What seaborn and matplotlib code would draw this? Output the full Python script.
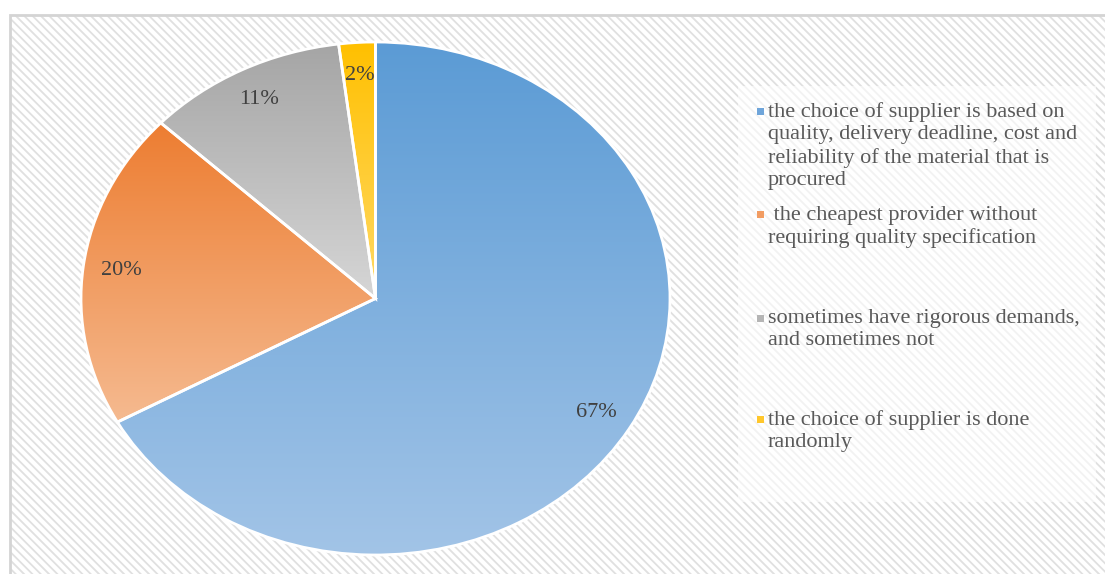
import numpy as np
import matplotlib
matplotlib.use("Agg")
import matplotlib.pyplot as plt
from matplotlib.colors import LinearSegmentedColormap
from matplotlib.patches import Rectangle
import seaborn as sns

# Survey answers: how suppliers are chosen
categories = [
    "the choice of supplier is based on\nquality, delivery deadline, cost and\nreliability of the material that is\nprocured",
    " the cheapest provider without\nrequiring quality specification",
    "sometimes have rigorous demands,\nand sometimes not",
    "the choice of supplier is done\nrandomly",
]
shares = [67, 20, 11, 2]

# top / bottom colours of each slice's vertical gradient
top_colors = ["#5B9BD5", "#ED7D31", "#A5A5A5", "#FFC000"]
bottom_colors = ["#A2C4E7", "#F5BA90", "#D6D6D6", "#FFD966"]
marker_colors = ["#6FA5DA", "#F29C62", "#B5B5B5", "#FFC72C"]

sns.set_theme(style="white")
plt.rcParams["font.family"] = ["Liberation Serif", "DejaVu Serif"]
plt.rcParams["hatch.linewidth"] = 1.3

W, H = 1105, 574
fig = plt.figure(figsize=(W / 100, H / 100), dpi=100)
fig.patch.set_facecolor("white")


def px_box(x0, y0, x1, y1):
    """Figure-fraction rectangle from pixel corners (origin top-left)."""
    return (x0 / W, 1 - y1 / H, (x1 - x0) / W, (y1 - y0) / H)


# hatched chart background with a light grey frame
bx, by, bw, bh = px_box(10, 15, 1112, 584)
fig.patches.append(Rectangle((bx, by), bw, bh, transform=fig.transFigure,
                             facecolor="white", edgecolor="#E0E0E0",
                             hatch="\\\\\\\\", linewidth=0, zorder=-2))
fig.patches.append(Rectangle((bx, by), bw, bh, transform=fig.transFigure,
                             facecolor="none", edgecolor="#D4D4D4",
                             linewidth=2, zorder=-1))
# lighter panel behind the legend
lx, ly, lw, lh = px_box(738, 86, 1096, 502)
fig.patches.append(Rectangle((lx, ly), lw, lh, transform=fig.transFigure,
                             facecolor="white", edgecolor="none",
                             alpha=0.6, zorder=-1))

# pie axes (slightly wider than tall)
ax = fig.add_axes(px_box(81, 42, 670, 555))
ax.set_zorder(2)
wedges, texts, autotexts = ax.pie(
    shares, startangle=90, counterclock=False, radius=1.0,
    autopct="%1.0f%%", pctdistance=0.87,
    wedgeprops=dict(edgecolor="white", linewidth=2),
    textprops=dict(color="#404040", fontsize=16),
)
ax.set_aspect("auto")
ax.patch.set_visible(False)

grad = np.linspace(0, 1, 256).reshape(-1, 1)
for w, c0, c1 in zip(wedges, top_colors, bottom_colors):
    ext = w.get_path().get_extents()
    cmap = LinearSegmentedColormap.from_list("g", [c0, c1])
    im = ax.imshow(grad, cmap=cmap, aspect="auto", origin="upper",
                   extent=(ext.x0, ext.x1, ext.y0, ext.y1), zorder=1,
                   interpolation="bilinear")
    im.set_clip_path(w)
    w.set_facecolor("none")
    w.set_zorder(2)
for t in autotexts:
    t.set_zorder(4)
ax.set_xlim(-1, 1)
ax.set_ylim(-1, 1)

# legend entries
entry_y = [111, 215, 318, 419]
for label, color, yy in zip(categories, marker_colors, entry_y):
    mx, my, mw, mh = px_box(757, yy - 3.5, 764, yy + 3.5)
    fig.patches.append(Rectangle((mx, my), mw, mh, transform=fig.transFigure,
                                 facecolor=color, edgecolor="none", zorder=3))
    fig.text(768 / W, 1 - (yy - 9) / H, label, ha="left", va="top",
             fontsize=16, color="#595959", linespacing=1.24, zorder=4)

fig.savefig("out.png", dpi=100)
